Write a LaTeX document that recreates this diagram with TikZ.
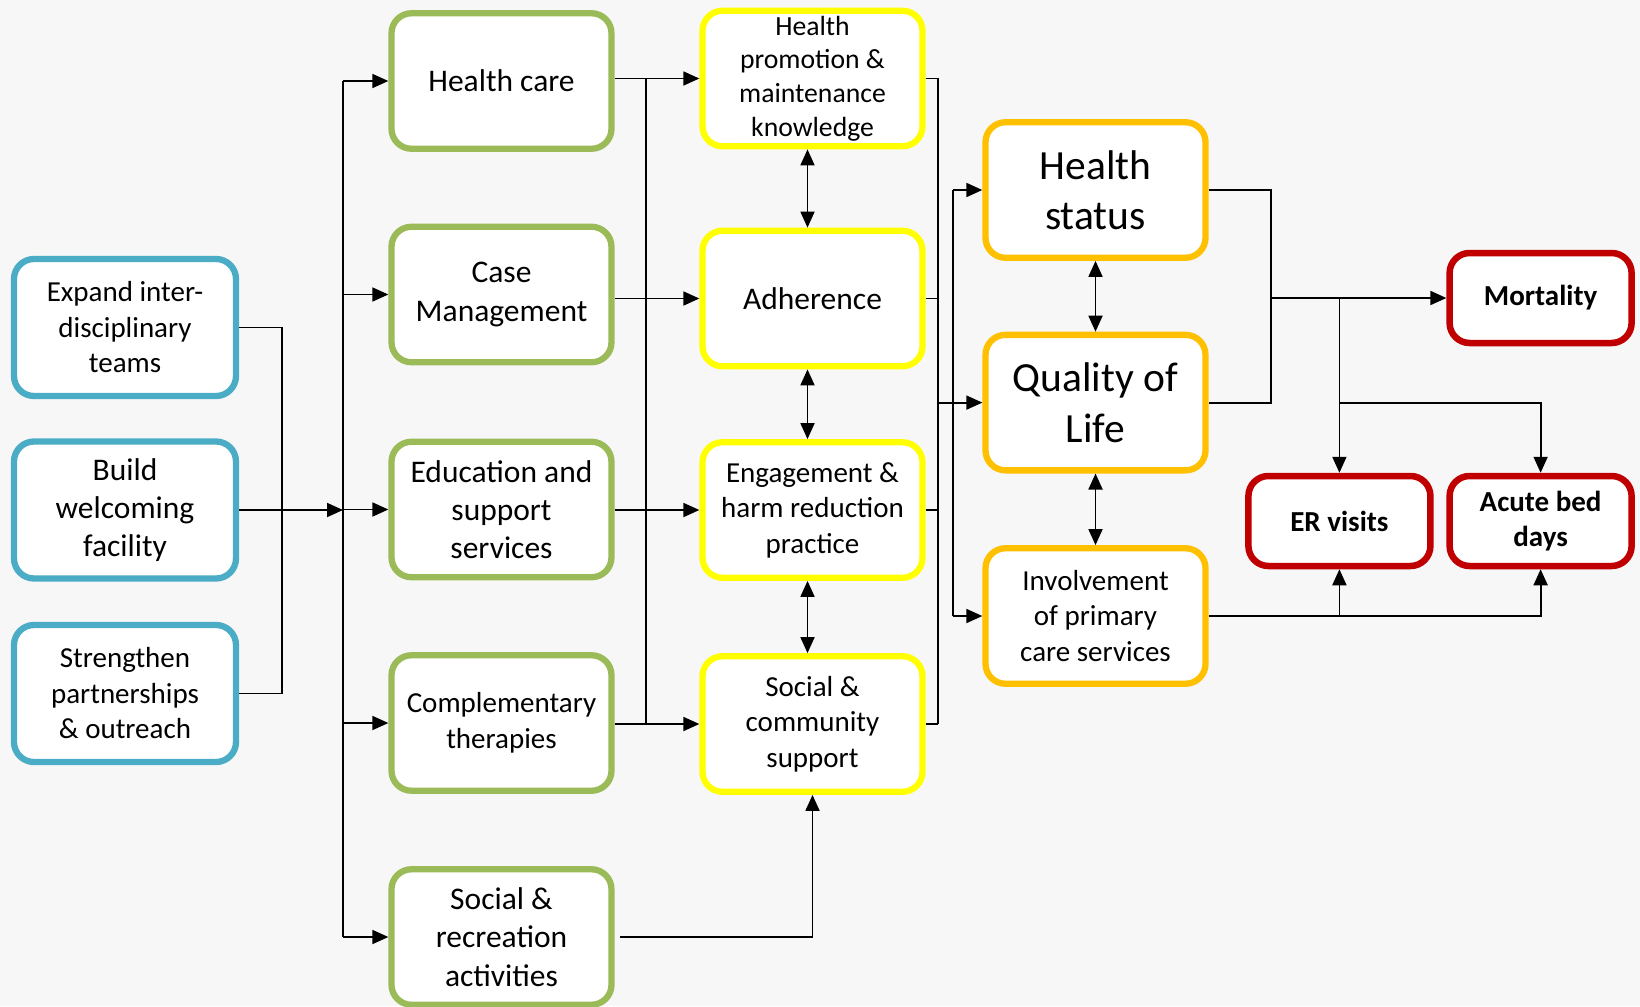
\documentclass[tikz,border=0pt]{standalone}
\usepackage{fontspec}
\setmainfont{Carlito}
\usetikzlibrary{arrows.meta}
\definecolor{bg}{HTML}{F7F7F7}
\definecolor{cblue}{HTML}{4BACC6}
\definecolor{cgreen}{HTML}{9BBB59}
\definecolor{cyellow}{HTML}{FFFF00}
\definecolor{corange}{HTML}{FFC000}
\definecolor{cred}{HTML}{C00000}
\begin{document}
\begin{tikzpicture}[x=1pt,y=-1pt,
  box/.style={draw, line width=6.3pt, rounded corners=20pt, fill=white, align=center, inner sep=0pt, minimum width=220pt, minimum height=135.5pt},
  bluebox/.style={box, draw=cblue, minimum width=222pt, minimum height=137pt},
  greenbox/.style={box, draw=cgreen},
  yellowbox/.style={box, draw=cyellow},
  orangebox/.style={box, draw=corange},
  redbox/.style={box, draw=cred, line width=6.5pt, minimum width=182pt, minimum height=90pt, font=\fontsize{29}{34.5}\selectfont\bfseries},
  fS/.style={font=\fontsize{29}{35.5}\selectfont},
  fM/.style={font=\fontsize{31.5}{38.2}\selectfont},
  fHP/.style={font=\fontsize{27.7}{33.6}\selectfont},
  fL/.style={font=\fontsize{41.5}{50.5}\selectfont},
  conn/.style={line width=1.8pt},
  arr/.style={conn, -{Triangle[length=16pt,width=14pt]}},
  darr/.style={conn, {Triangle[length=16pt,width=14pt]}-{Triangle[length=16pt,width=14pt]}}
]
\fill[bg] (0,0) rectangle (1640,1006);
\useasboundingbox (0,0) rectangle (1640,1006);

% column 1
\node[bluebox, fS] (b1) at (125,327.5) {Expand inter-\\disciplinary\\teams};
\node[bluebox, fM] (b2) at (125,510) {Build\\welcoming\\facility};
\node[bluebox, fS] (b3) at (125,693.5) {Strengthen\\partnerships\\\& outreach};

% column 2
\node[greenbox, fM] (g1) at (501.5,81) {Health care};
\node[greenbox, fM] (g2) at (501.5,294.5) {Case\\Management};
\node[greenbox, fM] (g3) at (501.5,509.5) {Education and\\support\\services};
\node[greenbox, fS] (g4) at (501.5,723) {Complementary\\therapies};
\node[greenbox, fM] (g5) at (501.5,937) {Social \&\\recreation\\activities};

% column 3
\node[yellowbox, fHP] (y1) at (812.5,78.5) {Health\\promotion \&\\maintenance\\knowledge};
\node[yellowbox, fM] (y2) at (812.5,298.5) {Adherence};
\node[yellowbox, fS] (y3) at (812.5,510) {Engagement \&\\harm reduction\\practice};
\node[yellowbox, fS] (y4) at (812.5,724) {Social \&\\community\\support};

% column 4
\node[orangebox, fL] (o1) at (1095.5,190) {Health\\status};
\node[orangebox, fL] (o2) at (1095.5,402.6) {Quality of\\Life};
\node[orangebox, fS] (o3) at (1095.5,616) {Involvement\\of primary\\care services};

% column 5
\node[redbox] (m) at (1540.6,298) {Mortality};
\node[redbox] (er) at (1339.4,521) {ER visits};
\node[redbox] (ac) at (1540.6,521) {Acute bed\\days};

% bus coordinates
\coordinate (xA) at (282,0);
\coordinate (xB) at (343,0);
\coordinate (xC) at (646,0);
\coordinate (xD) at (938,0);
\coordinate (xE) at (953,0);
\coordinate (xF) at (1270.7,0);

% column 1 -> bus
\draw[conn] (b1.east) -| (xA |- b3.east) -- (b3.east);
\draw[arr] (b2.east) -- (b2.east -| xB);
\draw[conn] (xB |- g1) -- (xB |- g5);
\foreach \g in {g1,g2,g3,g4,g5} \draw[arr] (xB |- \g) -- (\g.west);

% column 2 -> column 3
\draw[conn] (xC |- y1) -- (xC |- y4);
\draw[arr] (g1.east |- y1) -- (y1.west);
\draw[arr] (g2.east |- y2) -- (y2.west);
\draw[arr] (g3.east |- y3) -- (y3.west);
\draw[arr] (g4.east |- y4) -- (y4.west);
\draw[arr, shorten <=5pt] (g5.east) -| (y4.south);

% column 3 internal
\draw[darr] ([xshift=-5pt]y1.south) -- ([xshift=-5pt]y2.north);
\draw[darr] ([xshift=-5pt]y2.south) -- ([xshift=-5pt]y3.north);
\draw[darr] ([xshift=-5pt]y3.south) -- ([xshift=-5pt]y4.north);

% column 3 -> column 4
\foreach \y in {y1,y2,y3,y4} \draw[conn] (\y.east) -- (\y.east -| xD);
\draw[conn] (xD |- y1) -- (xD |- y4);
\draw[conn] (xD |- o2) -- (xE |- o2);
\draw[conn] (xE |- o1) -- (xE |- o3);
\foreach \o in {o1,o2,o3} \draw[arr] (xE |- \o) -- (\o.west);

% column 4 internal
\draw[darr] (o1.south) -- (o2.north);
\draw[darr] (o2.south) -- (o3.north);

% column 4 -> outcomes
\draw[conn] (o1.east) -| (xF |- o2) -- (o2.east);
\draw[arr] (xF |- m) -- (m.west);
\draw[arr] (er.north |- m) -- (er.north);
\draw[arr] (er.north |- o2) -| (ac.north);
\draw[arr] (o3.east) -| (ac.south);
\draw[arr] (er.south |- o3) -- (er.south);
\end{tikzpicture}
\end{document}
